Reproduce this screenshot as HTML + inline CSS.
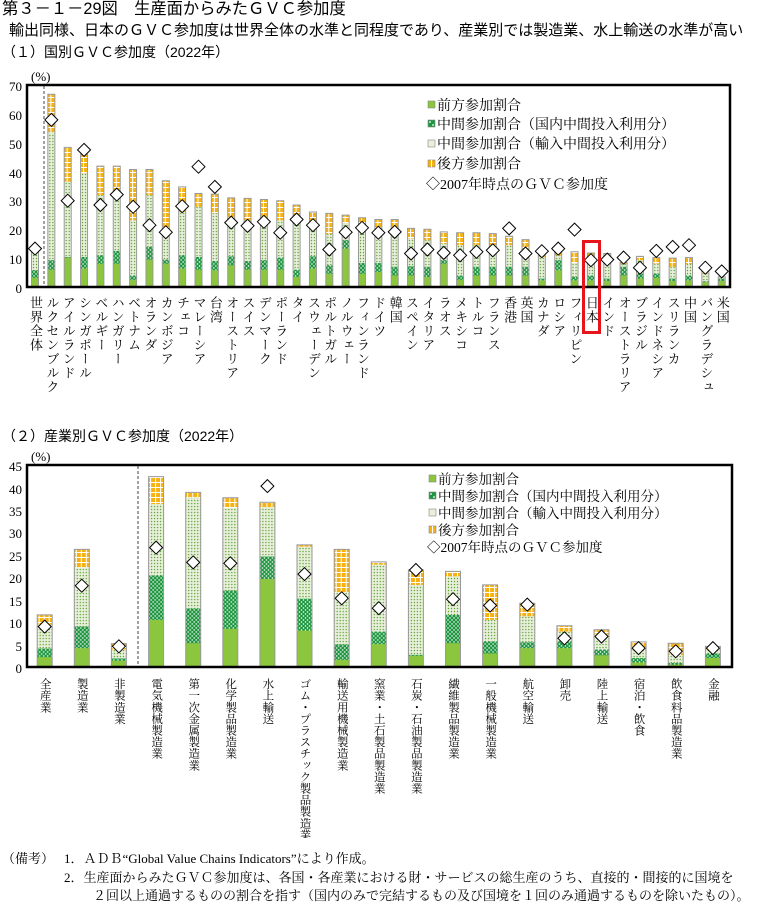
<!DOCTYPE html>
<html><head><meta charset="utf-8">
<style>
body{margin:0;background:#fff;}
#wrap{position:relative;width:757px;height:904px;overflow:hidden;font-family:"Liberation Serif","Noto Serif CJK SC",serif;color:#000;}
.t{position:absolute;white-space:nowrap;}
.s{font-family:"Liberation Sans","Noto Sans CJK JP",sans-serif;}
.v{position:absolute;writing-mode:vertical-rl;font-family:"Liberation Serif","Noto Serif CJK SC",serif;white-space:nowrap;}
.vt{font-size:13px;line-height:14px;width:14px;letter-spacing:1px;top:296px;}
.vb{font-size:11.5px;line-height:12px;width:12px;letter-spacing:0.1px;top:678px;}
svg{position:absolute;left:0;top:0;}
.g{fill:#8cc63f}
#top .d{fill:url(#d1)} #top .i{fill:url(#i1)} #top .b{fill:url(#b1)}
#bot .d{fill:url(#d2)} #bot .i{fill:url(#i2)} #bot .b{fill:url(#b2)}
.o{fill:none;stroke:#999;stroke-width:1;vector-effect:non-scaling-stroke}
</style></head><body><div id="wrap">
<svg width="757" height="904" viewBox="0 0 757 904">
<defs>
<pattern id="d1" width="4" height="4" patternUnits="userSpaceOnUse" patternTransform="scale(1,0.3465)"><rect width="4" height="4" fill="#1e9640"/><circle cx="1" cy="1" r="0.8" fill="#fff"/><circle cx="3" cy="3" r="0.8" fill="#fff"/></pattern>
<pattern id="i1" width="3" height="3" patternUnits="userSpaceOnUse" patternTransform="scale(1,0.3465)"><rect width="3" height="3" fill="#e9f0dc"/><circle cx="1.5" cy="1.5" r="0.7" fill="#5da232"/></pattern>
<pattern id="b1" width="5" height="5" patternUnits="userSpaceOnUse" patternTransform="scale(1,0.3465)"><rect width="5" height="5" fill="#fff"/><rect width="4" height="4" fill="#f6b210"/></pattern>
<pattern id="d2" width="4" height="4" patternUnits="userSpaceOnUse" patternTransform="scale(1,0.2227)"><rect width="4" height="4" fill="#1e9640"/><circle cx="1" cy="1" r="0.8" fill="#fff"/><circle cx="3" cy="3" r="0.8" fill="#fff"/></pattern>
<pattern id="i2" width="3" height="3" patternUnits="userSpaceOnUse" patternTransform="scale(1,0.2227)"><rect width="3" height="3" fill="#e9f0dc"/><circle cx="1.5" cy="1.5" r="0.7" fill="#5da232"/></pattern>
<pattern id="b2" width="5" height="5" patternUnits="userSpaceOnUse" patternTransform="scale(1,0.2227)"><rect width="5" height="5" fill="#fff"/><rect width="4" height="4" fill="#f6b210"/></pattern>
<path id="dm" d="M0,-6.5 L6.5,0 0,6.5 -6.5,0Z" fill="#fff" stroke="#000" stroke-width="1"/>
</defs>

<line x1="44" y1="86" x2="44" y2="286" stroke="#444" stroke-width="1" stroke-dasharray="3,2"/>
<g id="top" transform="translate(0,287) scale(1,-2.886)">
<g transform="translate(35)"><rect x="-3.5" width="7" height="12" class="b"/><rect x="-3.5" width="7" height="12" class="i"/><rect x="-3.5" width="7" height="5.8" class="d"/><rect x="-3.5" width="7" height="3.2" class="g"/><rect x="-3.5" width="7" height="12" class="o"/></g>
<g transform="translate(51.35)"><rect x="-3.5" width="7" height="66.8" class="b"/><rect x="-3.5" width="7" height="53.5" class="i"/><rect x="-3.5" width="7" height="9.3" class="d"/><rect x="-3.5" width="7" height="6" class="g"/><rect x="-3.5" width="7" height="66.8" class="o"/></g>
<g transform="translate(67.7)"><rect x="-3.5" width="7" height="48.4" class="b"/><rect x="-3.5" width="7" height="36.5" class="i"/><rect x="-3.5" width="7" height="10.4" class="d"/><rect x="-3.5" width="7" height="10.2" class="g"/><rect x="-3.5" width="7" height="48.4" class="o"/></g>
<g transform="translate(84.05)"><rect x="-3.5" width="7" height="46" class="b"/><rect x="-3.5" width="7" height="39.4" class="i"/><rect x="-3.5" width="7" height="10.4" class="d"/><rect x="-3.5" width="7" height="6.4" class="g"/><rect x="-3.5" width="7" height="46" class="o"/></g>
<g transform="translate(100.4)"><rect x="-3.5" width="7" height="41.9" class="b"/><rect x="-3.5" width="7" height="31.8" class="i"/><rect x="-3.5" width="7" height="11" class="d"/><rect x="-3.5" width="7" height="8.1" class="g"/><rect x="-3.5" width="7" height="41.9" class="o"/></g>
<g transform="translate(116.75)"><rect x="-3.5" width="7" height="41.9" class="b"/><rect x="-3.5" width="7" height="31.3" class="i"/><rect x="-3.5" width="7" height="12.5" class="d"/><rect x="-3.5" width="7" height="8.1" class="g"/><rect x="-3.5" width="7" height="41.9" class="o"/></g>
<g transform="translate(133.1)"><rect x="-3.5" width="7" height="40.7" class="b"/><rect x="-3.5" width="7" height="23.1" class="i"/><rect x="-3.5" width="7" height="4" class="d"/><rect x="-3.5" width="7" height="2.5" class="g"/><rect x="-3.5" width="7" height="40.7" class="o"/></g>
<g transform="translate(149.45)"><rect x="-3.5" width="7" height="40.7" class="b"/><rect x="-3.5" width="7" height="31.8" class="i"/><rect x="-3.5" width="7" height="13.9" class="d"/><rect x="-3.5" width="7" height="9.5" class="g"/><rect x="-3.5" width="7" height="40.7" class="o"/></g>
<g transform="translate(165.8)"><rect x="-3.5" width="7" height="36.8" class="b"/><rect x="-3.5" width="7" height="19" class="i"/><rect x="-3.5" width="7" height="9.5" class="d"/><rect x="-3.5" width="7" height="8.1" class="g"/><rect x="-3.5" width="7" height="36.8" class="o"/></g>
<g transform="translate(182.15)"><rect x="-3.5" width="7" height="34.7" class="b"/><rect x="-3.5" width="7" height="26" class="i"/><rect x="-3.5" width="7" height="11" class="d"/><rect x="-3.5" width="7" height="6.4" class="g"/><rect x="-3.5" width="7" height="34.7" class="o"/></g>
<g transform="translate(198.5)"><rect x="-3.5" width="7" height="32.4" class="b"/><rect x="-3.5" width="7" height="27.8" class="i"/><rect x="-3.5" width="7" height="10.4" class="d"/><rect x="-3.5" width="7" height="6" class="g"/><rect x="-3.5" width="7" height="32.4" class="o"/></g>
<g transform="translate(214.85)"><rect x="-3.5" width="7" height="32.2" class="b"/><rect x="-3.5" width="7" height="25.5" class="i"/><rect x="-3.5" width="7" height="9" class="d"/><rect x="-3.5" width="7" height="5.8" class="g"/><rect x="-3.5" width="7" height="32.2" class="o"/></g>
<g transform="translate(231.2)"><rect x="-3.5" width="7" height="30.9" class="b"/><rect x="-3.5" width="7" height="23" class="i"/><rect x="-3.5" width="7" height="10.6" class="d"/><rect x="-3.5" width="7" height="7.5" class="g"/><rect x="-3.5" width="7" height="30.9" class="o"/></g>
<g transform="translate(247.55)"><rect x="-3.5" width="7" height="30.7" class="b"/><rect x="-3.5" width="7" height="23" class="i"/><rect x="-3.5" width="7" height="9" class="d"/><rect x="-3.5" width="7" height="6" class="g"/><rect x="-3.5" width="7" height="30.7" class="o"/></g>
<g transform="translate(263.9)"><rect x="-3.5" width="7" height="30.3" class="b"/><rect x="-3.5" width="7" height="23.4" class="i"/><rect x="-3.5" width="7" height="9.3" class="d"/><rect x="-3.5" width="7" height="6" class="g"/><rect x="-3.5" width="7" height="30.3" class="o"/></g>
<g transform="translate(280.25)"><rect x="-3.5" width="7" height="29.9" class="b"/><rect x="-3.5" width="7" height="23.1" class="i"/><rect x="-3.5" width="7" height="10.2" class="d"/><rect x="-3.5" width="7" height="6" class="g"/><rect x="-3.5" width="7" height="29.9" class="o"/></g>
<g transform="translate(296.6)"><rect x="-3.5" width="7" height="28.4" class="b"/><rect x="-3.5" width="7" height="24.5" class="i"/><rect x="-3.5" width="7" height="6" class="d"/><rect x="-3.5" width="7" height="3.5" class="g"/><rect x="-3.5" width="7" height="28.4" class="o"/></g>
<g transform="translate(312.95)"><rect x="-3.5" width="7" height="26" class="b"/><rect x="-3.5" width="7" height="22.9" class="i"/><rect x="-3.5" width="7" height="10.6" class="d"/><rect x="-3.5" width="7" height="6.4" class="g"/><rect x="-3.5" width="7" height="26" class="o"/></g>
<g transform="translate(329.3)"><rect x="-3.5" width="7" height="25.5" class="b"/><rect x="-3.5" width="7" height="18.3" class="i"/><rect x="-3.5" width="7" height="7.5" class="d"/><rect x="-3.5" width="7" height="4.6" class="g"/><rect x="-3.5" width="7" height="25.5" class="o"/></g>
<g transform="translate(345.65)"><rect x="-3.5" width="7" height="24.9" class="b"/><rect x="-3.5" width="7" height="22.2" class="i"/><rect x="-3.5" width="7" height="16.2" class="d"/><rect x="-3.5" width="7" height="13.3" class="g"/><rect x="-3.5" width="7" height="24.9" class="o"/></g>
<g transform="translate(362)"><rect x="-3.5" width="7" height="24" class="b"/><rect x="-3.5" width="7" height="22.2" class="i"/><rect x="-3.5" width="7" height="8.3" class="d"/><rect x="-3.5" width="7" height="4.6" class="g"/><rect x="-3.5" width="7" height="24" class="o"/></g>
<g transform="translate(378.35)"><rect x="-3.5" width="7" height="23.4" class="b"/><rect x="-3.5" width="7" height="20.8" class="i"/><rect x="-3.5" width="7" height="8.3" class="d"/><rect x="-3.5" width="7" height="5.2" class="g"/><rect x="-3.5" width="7" height="23.4" class="o"/></g>
<g transform="translate(394.7)"><rect x="-3.5" width="7" height="23.4" class="b"/><rect x="-3.5" width="7" height="20.8" class="i"/><rect x="-3.5" width="7" height="7" class="d"/><rect x="-3.5" width="7" height="4" class="g"/><rect x="-3.5" width="7" height="23.4" class="o"/></g>
<g transform="translate(411.05)"><rect x="-3.5" width="7" height="20.3" class="b"/><rect x="-3.5" width="7" height="16.8" class="i"/><rect x="-3.5" width="7" height="7.2" class="d"/><rect x="-3.5" width="7" height="4" class="g"/><rect x="-3.5" width="7" height="20.3" class="o"/></g>
<g transform="translate(427.4)"><rect x="-3.5" width="7" height="20" class="b"/><rect x="-3.5" width="7" height="16.2" class="i"/><rect x="-3.5" width="7" height="7" class="d"/><rect x="-3.5" width="7" height="3.5" class="g"/><rect x="-3.5" width="7" height="20" class="o"/></g>
<g transform="translate(443.75)"><rect x="-3.5" width="7" height="19.1" class="b"/><rect x="-3.5" width="7" height="15" class="i"/><rect x="-3.5" width="7" height="9.3" class="d"/><rect x="-3.5" width="7" height="8.1" class="g"/><rect x="-3.5" width="7" height="19.1" class="o"/></g>
<g transform="translate(460.1)"><rect x="-3.5" width="7" height="18.8" class="b"/><rect x="-3.5" width="7" height="14.5" class="i"/><rect x="-3.5" width="7" height="4" class="d"/><rect x="-3.5" width="7" height="2.5" class="g"/><rect x="-3.5" width="7" height="18.8" class="o"/></g>
<g transform="translate(476.45)"><rect x="-3.5" width="7" height="18.8" class="b"/><rect x="-3.5" width="7" height="14.5" class="i"/><rect x="-3.5" width="7" height="7" class="d"/><rect x="-3.5" width="7" height="4" class="g"/><rect x="-3.5" width="7" height="18.8" class="o"/></g>
<g transform="translate(492.8)"><rect x="-3.5" width="7" height="18.5" class="b"/><rect x="-3.5" width="7" height="14.5" class="i"/><rect x="-3.5" width="7" height="7" class="d"/><rect x="-3.5" width="7" height="4" class="g"/><rect x="-3.5" width="7" height="18.5" class="o"/></g>
<g transform="translate(509.15)"><rect x="-3.5" width="7" height="17.6" class="b"/><rect x="-3.5" width="7" height="14.5" class="i"/><rect x="-3.5" width="7" height="7" class="d"/><rect x="-3.5" width="7" height="4" class="g"/><rect x="-3.5" width="7" height="17.6" class="o"/></g>
<g transform="translate(525.5)"><rect x="-3.5" width="7" height="16.4" class="b"/><rect x="-3.5" width="7" height="13.3" class="i"/><rect x="-3.5" width="7" height="7" class="d"/><rect x="-3.5" width="7" height="4" class="g"/><rect x="-3.5" width="7" height="16.4" class="o"/></g>
<g transform="translate(541.85)"><rect x="-3.5" width="7" height="11" class="b"/><rect x="-3.5" width="7" height="10.4" class="i"/><rect x="-3.5" width="7" height="2.9" class="d"/><rect x="-3.5" width="7" height="2.3" class="g"/><rect x="-3.5" width="7" height="11" class="o"/></g>
<g transform="translate(558.2)"><rect x="-3.5" width="7" height="12" class="b"/><rect x="-3.5" width="7" height="11" class="i"/><rect x="-3.5" width="7" height="9.3" class="d"/><rect x="-3.5" width="7" height="5.8" class="g"/><rect x="-3.5" width="7" height="12" class="o"/></g>
<g transform="translate(574.55)"><rect x="-3.5" width="7" height="12.2" class="b"/><rect x="-3.5" width="7" height="8.3" class="i"/><rect x="-3.5" width="7" height="3.5" class="d"/><rect x="-3.5" width="7" height="2.3" class="g"/><rect x="-3.5" width="7" height="12.2" class="o"/></g>
<g transform="translate(590.9)"><rect x="-3.5" width="7" height="11.8" class="b"/><rect x="-3.5" width="7" height="10.4" class="i"/><rect x="-3.5" width="7" height="4" class="d"/><rect x="-3.5" width="7" height="2.3" class="g"/><rect x="-3.5" width="7" height="11.8" class="o"/></g>
<g transform="translate(607.25)"><rect x="-3.5" width="7" height="11.6" class="b"/><rect x="-3.5" width="7" height="11.3" class="i"/><rect x="-3.5" width="7" height="2.9" class="d"/><rect x="-3.5" width="7" height="2.1" class="g"/><rect x="-3.5" width="7" height="11.6" class="o"/></g>
<g transform="translate(623.6)"><rect x="-3.5" width="7" height="8.5" class="b"/><rect x="-3.5" width="7" height="8" class="i"/><rect x="-3.5" width="7" height="7" class="d"/><rect x="-3.5" width="7" height="4" class="g"/><rect x="-3.5" width="7" height="8.5" class="o"/></g>
<g transform="translate(639.95)"><rect x="-3.5" width="7" height="10.6" class="b"/><rect x="-3.5" width="7" height="9.3" class="i"/><rect x="-3.5" width="7" height="4.6" class="d"/><rect x="-3.5" width="7" height="2.9" class="g"/><rect x="-3.5" width="7" height="10.6" class="o"/></g>
<g transform="translate(656.3)"><rect x="-3.5" width="7" height="10.2" class="b"/><rect x="-3.5" width="7" height="8.1" class="i"/><rect x="-3.5" width="7" height="4.6" class="d"/><rect x="-3.5" width="7" height="3.2" class="g"/><rect x="-3.5" width="7" height="10.2" class="o"/></g>
<g transform="translate(672.65)"><rect x="-3.5" width="7" height="10" class="b"/><rect x="-3.5" width="7" height="6.9" class="i"/><rect x="-3.5" width="7" height="2.9" class="d"/><rect x="-3.5" width="7" height="2.1" class="g"/><rect x="-3.5" width="7" height="10" class="o"/></g>
<g transform="translate(689)"><rect x="-3.5" width="7" height="10.2" class="b"/><rect x="-3.5" width="7" height="7.9" class="i"/><rect x="-3.5" width="7" height="4" class="d"/><rect x="-3.5" width="7" height="2.3" class="g"/><rect x="-3.5" width="7" height="10.2" class="o"/></g>
<g transform="translate(705.35)"><rect x="-3.5" width="7" height="6.4" class="b"/><rect x="-3.5" width="7" height="4.6" class="i"/><rect x="-3.5" width="7" height="2" class="d"/><rect x="-3.5" width="7" height="1.7" class="g"/><rect x="-3.5" width="7" height="6.4" class="o"/></g>
<g transform="translate(721.7)"><rect x="-3.5" width="7" height="3.5" class="b"/><rect x="-3.5" width="7" height="3.5" class="i"/><rect x="-3.5" width="7" height="2.9" class="d"/><rect x="-3.5" width="7" height="2.1" class="g"/><rect x="-3.5" width="7" height="3.5" class="o"/></g>
</g>
<g>
<use href="#dm" x="35" y="248.6"/><use href="#dm" x="51.35" y="119.9"/><use href="#dm" x="67.7" y="200.7"/><use href="#dm" x="84.05" y="149.9"/><use href="#dm" x="100.4" y="205"/><use href="#dm" x="116.75" y="194.6"/><use href="#dm" x="133.1" y="206.8"/><use href="#dm" x="149.45" y="225.2"/><use href="#dm" x="165.8" y="232.2"/><use href="#dm" x="182.15" y="206.2"/><use href="#dm" x="198.5" y="166.7"/><use href="#dm" x="214.85" y="186.9"/><use href="#dm" x="231.2" y="222.6"/><use href="#dm" x="247.55" y="225.8"/><use href="#dm" x="263.9" y="221.8"/><use href="#dm" x="280.25" y="232.7"/><use href="#dm" x="296.6" y="219.5"/><use href="#dm" x="312.95" y="225.2"/><use href="#dm" x="329.3" y="249.5"/><use href="#dm" x="345.65" y="232.2"/><use href="#dm" x="362" y="227.8"/><use href="#dm" x="378.35" y="232.7"/><use href="#dm" x="394.7" y="231.9"/><use href="#dm" x="411.05" y="253.5"/><use href="#dm" x="427.4" y="249.5"/><use href="#dm" x="443.75" y="252.9"/><use href="#dm" x="460.1" y="255.3"/><use href="#dm" x="476.45" y="251.8"/><use href="#dm" x="492.8" y="250.3"/><use href="#dm" x="509.15" y="228.4"/><use href="#dm" x="525.5" y="253.5"/><use href="#dm" x="541.85" y="251.2"/><use href="#dm" x="558.2" y="248.6"/><use href="#dm" x="574.55" y="229.6"/><use href="#dm" x="590.9" y="260.2"/><use href="#dm" x="607.25" y="259.6"/><use href="#dm" x="623.6" y="257.6"/><use href="#dm" x="639.95" y="267.7"/><use href="#dm" x="656.3" y="250.9"/><use href="#dm" x="672.65" y="246.9"/><use href="#dm" x="689" y="245.2"/><use href="#dm" x="705.35" y="267.7"/><use href="#dm" x="721.7" y="271.4"/>
</g>
<rect x="27" y="85" width="703" height="202" fill="none" stroke="#000" stroke-width="2.5"/>
<rect x="583.5" y="241.5" width="16" height="91" fill="none" stroke="#e8141c" stroke-width="3"/>
<g font-family="Liberation Serif" font-size="13" text-anchor="end">
<text x="22" y="91">70</text><text x="22" y="120">60</text><text x="22" y="149">50</text><text x="22" y="178">40</text><text x="22" y="206">30</text><text x="22" y="235">20</text><text x="22" y="264">10</text><text x="22" y="293">0</text>
</g>
<text x="31" y="81" font-family="Liberation Serif" font-size="13">(%)</text>
<rect x="428" y="101" width="7" height="7" fill="#8cc63f" stroke="#888" stroke-width="0.6"/>
<rect x="428" y="120" width="7" height="7" fill="#1e9640" stroke="#888" stroke-width="0.6"/><circle cx="430" cy="122" r="0.9" fill="#fff"/><circle cx="433" cy="125" r="0.9" fill="#fff"/>
<rect x="428" y="140" width="7" height="7" fill="#e9f0dc" stroke="#888" stroke-width="0.6"/>
<rect x="428" y="160" width="7" height="7" fill="#f6b210" stroke="#888" stroke-width="0.6"/><line x1="431.5" y1="160" x2="431.5" y2="167" stroke="#fff"/>
<g font-family="Liberation Serif, Noto Serif CJK SC, serif" font-size="14">
<text x="437" y="110">前方参加割合</text>
<text x="437" y="129">中間参加割合（国内中間投入利用分）</text>
<text x="437" y="148.5">中間参加割合（輸入中間投入利用分）</text>
<text x="437" y="168.5">後方参加割合</text>
<text x="426" y="189">◇2007年時点のＧＶＣ参加度</text>
</g>

<line x1="138" y1="466" x2="138" y2="666" stroke="#444" stroke-width="1" stroke-dasharray="3,2"/>
<g id="bot" transform="translate(0,667) scale(1,-4.49)">
<g transform="translate(44.7)"><rect x="-7.5" width="15" height="11.6" class="b"/><rect x="-7.5" width="15" height="9.4" class="i"/><rect x="-7.5" width="15" height="4.1" class="d"/><rect x="-7.5" width="15" height="2.2" class="g"/><rect x="-7.5" width="15" height="11.6" class="o"/></g>
<g transform="translate(81.8)"><rect x="-7.5" width="15" height="26.2" class="b"/><rect x="-7.5" width="15" height="22.2" class="i"/><rect x="-7.5" width="15" height="9" class="d"/><rect x="-7.5" width="15" height="4.2" class="g"/><rect x="-7.5" width="15" height="26.2" class="o"/></g>
<g transform="translate(118.9)"><rect x="-7.5" width="15" height="5.2" class="b"/><rect x="-7.5" width="15" height="3.9" class="i"/><rect x="-7.5" width="15" height="1.9" class="d"/><rect x="-7.5" width="15" height="1.4" class="g"/><rect x="-7.5" width="15" height="5.2" class="o"/></g>
<g transform="translate(156.1)"><rect x="-7.5" width="15" height="42.4" class="b"/><rect x="-7.5" width="15" height="36.3" class="i"/><rect x="-7.5" width="15" height="20.4" class="d"/><rect x="-7.5" width="15" height="10.5" class="g"/><rect x="-7.5" width="15" height="42.4" class="o"/></g>
<g transform="translate(193.2)"><rect x="-7.5" width="15" height="38.9" class="b"/><rect x="-7.5" width="15" height="37.7" class="i"/><rect x="-7.5" width="15" height="13" class="d"/><rect x="-7.5" width="15" height="5.3" class="g"/><rect x="-7.5" width="15" height="38.9" class="o"/></g>
<g transform="translate(230.3)"><rect x="-7.5" width="15" height="37.7" class="b"/><rect x="-7.5" width="15" height="35.4" class="i"/><rect x="-7.5" width="15" height="17" class="d"/><rect x="-7.5" width="15" height="8.5" class="g"/><rect x="-7.5" width="15" height="37.7" class="o"/></g>
<g transform="translate(267.4)"><rect x="-7.5" width="15" height="36.7" class="b"/><rect x="-7.5" width="15" height="35.6" class="i"/><rect x="-7.5" width="15" height="24.6" class="d"/><rect x="-7.5" width="15" height="19.6" class="g"/><rect x="-7.5" width="15" height="36.7" class="o"/></g>
<g transform="translate(304.5)"><rect x="-7.5" width="15" height="27.2" class="b"/><rect x="-7.5" width="15" height="26.8" class="i"/><rect x="-7.5" width="15" height="15.2" class="d"/><rect x="-7.5" width="15" height="8.1" class="g"/><rect x="-7.5" width="15" height="27.2" class="o"/></g>
<g transform="translate(341.7)"><rect x="-7.5" width="15" height="26.2" class="b"/><rect x="-7.5" width="15" height="16.6" class="i"/><rect x="-7.5" width="15" height="5" class="d"/><rect x="-7.5" width="15" height="1.6" class="g"/><rect x="-7.5" width="15" height="26.2" class="o"/></g>
<g transform="translate(378.8)"><rect x="-7.5" width="15" height="23.4" class="b"/><rect x="-7.5" width="15" height="22.8" class="i"/><rect x="-7.5" width="15" height="7.9" class="d"/><rect x="-7.5" width="15" height="5.1" class="g"/><rect x="-7.5" width="15" height="23.4" class="o"/></g>
<g transform="translate(415.9)"><rect x="-7.5" width="15" height="21.6" class="b"/><rect x="-7.5" width="15" height="18.3" class="i"/><rect x="-7.5" width="15" height="2.7" class="d"/><rect x="-7.5" width="15" height="2.5" class="g"/><rect x="-7.5" width="15" height="21.6" class="o"/></g>
<g transform="translate(453)"><rect x="-7.5" width="15" height="21.3" class="b"/><rect x="-7.5" width="15" height="20.2" class="i"/><rect x="-7.5" width="15" height="11.6" class="d"/><rect x="-7.5" width="15" height="5.3" class="g"/><rect x="-7.5" width="15" height="21.3" class="o"/></g>
<g transform="translate(490.1)"><rect x="-7.5" width="15" height="18.3" class="b"/><rect x="-7.5" width="15" height="10.5" class="i"/><rect x="-7.5" width="15" height="5.7" class="d"/><rect x="-7.5" width="15" height="3" class="g"/><rect x="-7.5" width="15" height="18.3" class="o"/></g>
<g transform="translate(527.3)"><rect x="-7.5" width="15" height="14.2" class="b"/><rect x="-7.5" width="15" height="11.3" class="i"/><rect x="-7.5" width="15" height="5.5" class="d"/><rect x="-7.5" width="15" height="4.2" class="g"/><rect x="-7.5" width="15" height="14.2" class="o"/></g>
<g transform="translate(564.4)"><rect x="-7.5" width="15" height="9.2" class="b"/><rect x="-7.5" width="15" height="7.9" class="i"/><rect x="-7.5" width="15" height="5.7" class="d"/><rect x="-7.5" width="15" height="4.2" class="g"/><rect x="-7.5" width="15" height="9.2" class="o"/></g>
<g transform="translate(601.5)"><rect x="-7.5" width="15" height="8.3" class="b"/><rect x="-7.5" width="15" height="7.2" class="i"/><rect x="-7.5" width="15" height="3.9" class="d"/><rect x="-7.5" width="15" height="2.6" class="g"/><rect x="-7.5" width="15" height="8.3" class="o"/></g>
<g transform="translate(638.6)"><rect x="-7.5" width="15" height="5.6" class="b"/><rect x="-7.5" width="15" height="3.9" class="i"/><rect x="-7.5" width="15" height="2" class="d"/><rect x="-7.5" width="15" height="1" class="g"/><rect x="-7.5" width="15" height="5.6" class="o"/></g>
<g transform="translate(675.7)"><rect x="-7.5" width="15" height="5.3" class="b"/><rect x="-7.5" width="15" height="2.7" class="i"/><rect x="-7.5" width="15" height="0.9" class="d"/><rect x="-7.5" width="15" height="0.5" class="g"/><rect x="-7.5" width="15" height="5.3" class="o"/></g>
<g transform="translate(712.9)"><rect x="-7.5" width="15" height="4.6" class="b"/><rect x="-7.5" width="15" height="3.9" class="i"/><rect x="-7.5" width="15" height="3" class="d"/><rect x="-7.5" width="15" height="2" class="g"/><rect x="-7.5" width="15" height="4.6" class="o"/></g>
</g>
<g>
<use href="#dm" x="44.7" y="626.6"/><use href="#dm" x="81.8" y="585.7"/><use href="#dm" x="118.9" y="646.3"/><use href="#dm" x="156.1" y="547.6"/><use href="#dm" x="193.2" y="562.4"/><use href="#dm" x="230.3" y="563.3"/><use href="#dm" x="267.4" y="486.1"/><use href="#dm" x="304.5" y="574.1"/><use href="#dm" x="341.7" y="598.3"/><use href="#dm" x="378.8" y="608.2"/><use href="#dm" x="415.9" y="570"/><use href="#dm" x="453" y="599.2"/><use href="#dm" x="490.1" y="605.5"/><use href="#dm" x="527.3" y="604.6"/><use href="#dm" x="564.4" y="638.3"/><use href="#dm" x="601.5" y="636.5"/><use href="#dm" x="638.6" y="648.1"/><use href="#dm" x="675.7" y="651.3"/><use href="#dm" x="712.9" y="648.1"/>
</g>
<rect x="27" y="465" width="705" height="202" fill="none" stroke="#000" stroke-width="2.5"/>
<g font-family="Liberation Serif" font-size="13" text-anchor="end">
<text x="22" y="471">45</text><text x="22" y="494">40</text><text x="22" y="516">35</text><text x="22" y="538">30</text><text x="22" y="561">25</text><text x="22" y="583">20</text><text x="22" y="606">15</text><text x="22" y="628">10</text><text x="22" y="651">5</text><text x="22" y="673">0</text>
</g>
<text x="31" y="461" font-family="Liberation Serif" font-size="13">(%)</text>
<rect x="429" y="475" width="7" height="7" fill="#8cc63f" stroke="#888" stroke-width="0.6"/>
<rect x="429" y="492" width="7" height="7" fill="#1e9640" stroke="#888" stroke-width="0.6"/><circle cx="431" cy="494" r="0.9" fill="#fff"/><circle cx="434" cy="497" r="0.9" fill="#fff"/>
<rect x="429" y="509" width="7" height="7" fill="#e9f0dc" stroke="#888" stroke-width="0.6"/>
<rect x="429" y="526" width="7" height="7" fill="#f6b210" stroke="#888" stroke-width="0.6"/><line x1="432.5" y1="526" x2="432.5" y2="533" stroke="#fff"/>
<g font-family="Liberation Serif, Noto Serif CJK SC, serif" font-size="13.5">
<text x="438" y="484">前方参加割合</text>
<text x="438" y="501">中間参加割合（国内中間投入利用分）</text>
<text x="438" y="518">中間参加割合（輸入中間投入利用分）</text>
<text x="438" y="535">後方参加割合</text>
<text x="427" y="552">◇2007年時点のＧＶＣ参加度</text>
</g>
</svg>

<div class="t s" style="left:2px;top:0px;font-size:16.3px;line-height:19px;">第３－１－29図　生産面からみたＧＶＣ参加度</div>
<div class="t s" style="left:9px;top:22px;font-size:15px;line-height:18px;">輸出同様、日本のＧＶＣ参加度は世界全体の水準と同程度であり、産業別では製造業、水上輸送の水準が高い</div>
<div class="t s" style="left:2px;top:43px;font-size:14px;line-height:18px;">（１）国別ＧＶＣ参加度（2022年）</div>
<div class="t s" style="left:2px;top:427px;font-size:14px;line-height:18px;">（２）産業別ＧＶＣ参加度（2022年）</div>

<div class="v vt" style="left:28px">世界全体</div>
<div class="v vt" style="left:44.35px">ルクセンブルク</div>
<div class="v vt" style="left:60.7px">アイルランド</div>
<div class="v vt" style="left:77.05px">シンガポール</div>
<div class="v vt" style="left:93.4px">ベルギー</div>
<div class="v vt" style="left:109.75px">ハンガリー</div>
<div class="v vt" style="left:126.1px">ベトナム</div>
<div class="v vt" style="left:142.45px">オランダ</div>
<div class="v vt" style="left:158.8px">カンボジア</div>
<div class="v vt" style="left:175.15px">チェコ</div>
<div class="v vt" style="left:191.5px">マレーシア</div>
<div class="v vt" style="left:207.85px">台湾</div>
<div class="v vt" style="left:224.2px">オーストリア</div>
<div class="v vt" style="left:240.55px">スイス</div>
<div class="v vt" style="left:256.9px">デンマーク</div>
<div class="v vt" style="left:273.25px">ポーランド</div>
<div class="v vt" style="left:289.6px">タイ</div>
<div class="v vt" style="left:305.95px">スウェーデン</div>
<div class="v vt" style="left:322.3px">ポルトガル</div>
<div class="v vt" style="left:338.65px">ノルウェー</div>
<div class="v vt" style="left:355px">フィンランド</div>
<div class="v vt" style="left:371.35px">ドイツ</div>
<div class="v vt" style="left:387.7px">韓国</div>
<div class="v vt" style="left:404.05px">スペイン</div>
<div class="v vt" style="left:420.4px">イタリア</div>
<div class="v vt" style="left:436.75px">ラオス</div>
<div class="v vt" style="left:453.1px">メキシコ</div>
<div class="v vt" style="left:469.45px">トルコ</div>
<div class="v vt" style="left:485.8px">フランス</div>
<div class="v vt" style="left:502.15px">香港</div>
<div class="v vt" style="left:518.5px">英国</div>
<div class="v vt" style="left:534.85px">カナダ</div>
<div class="v vt" style="left:551.2px">ロシア</div>
<div class="v vt" style="left:567.55px">フィリピン</div>
<div class="v vt" style="left:583.9px">日本</div>
<div class="v vt" style="left:600.25px">インド</div>
<div class="v vt" style="left:616.6px">オーストラリア</div>
<div class="v vt" style="left:632.95px">ブラジル</div>
<div class="v vt" style="left:649.3px">インドネシア</div>
<div class="v vt" style="left:665.65px">スリランカ</div>
<div class="v vt" style="left:682px">中国</div>
<div class="v vt" style="left:698.35px">バングラデシュ</div>
<div class="v vt" style="left:714.7px">米国</div>

<div class="v vb" style="left:38.7px">全産業</div>
<div class="v vb" style="left:75.8px">製造業</div>
<div class="v vb" style="left:112.9px">非製造業</div>
<div class="v vb" style="left:150.1px">電気機械製造業</div>
<div class="v vb" style="left:187.2px">第一次金属製造業</div>
<div class="v vb" style="left:224.3px">化学製品製造業</div>
<div class="v vb" style="left:261.4px">水上輸送</div>
<div class="v vb" style="left:298.5px;height:160px;overflow:hidden;">ゴム・プラスチック製品製造業</div>
<div class="v vb" style="left:335.7px">輸送用機械製造業</div>
<div class="v vb" style="left:372.8px">窯業・土石製品製造業</div>
<div class="v vb" style="left:409.9px">石炭・石油製品製造業</div>
<div class="v vb" style="left:447px">繊維製品製造業</div>
<div class="v vb" style="left:484.1px">一般機械製造業</div>
<div class="v vb" style="left:521.3px">航空輸送</div>
<div class="v vb" style="left:558.4px">卸売</div>
<div class="v vb" style="left:595.5px">陸上輸送</div>
<div class="v vb" style="left:632.6px">宿泊・飲食</div>
<div class="v vb" style="left:669.7px">飲食料品製造業</div>
<div class="v vb" style="left:706.9px">金融</div>

<div class="t" style="left:2px;top:851px;font-size:13px;line-height:16px;">（備考）</div>
<div class="t" style="left:64px;top:851px;font-size:13px;line-height:16px;">1．ＡＤＢ“Global Value Chains Indicators”により作成。</div>
<div class="t" style="left:64px;top:870px;font-size:13px;line-height:16px;">2．生産面からみたＧＶＣ参加度は、各国・各産業における財・サービスの総生産のうち、直接的・間接的に国境を</div>
<div class="t" style="left:93px;top:888px;font-size:13px;line-height:16px;">２回以上通過するものの割合を指す（国内のみで完結するもの及び国境を１回のみ通過するものを除いたもの）。</div>
</div></body></html>
